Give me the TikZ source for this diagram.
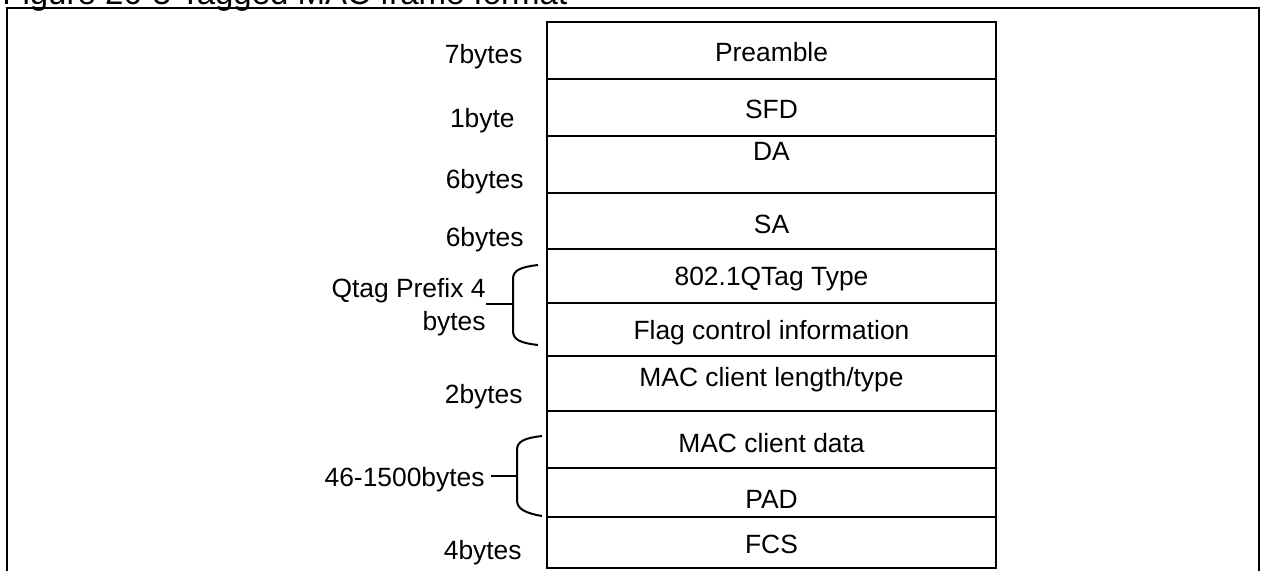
\documentclass[tikz,border=0pt]{standalone}
\usepackage{fontspec}
\setmainfont{Liberation Sans}
\usetikzlibrary{positioning}

\begin{document}
\begin{tikzpicture}[x=0.5pt,y=-0.5pt,
    font=\fontsize{13.2}{16.5}\selectfont,
    field/.style={draw,line width=1pt},
    fieldtext/.style={anchor=base,inner sep=0pt},
    sizetext/.style={anchor=base east,inner sep=0pt},
    brace/.style={line width=1pt}]
  \useasboundingbox (0,0) rectangle (1265,570);
  % caption, cut by the top edge
  \node[anchor=base west,inner sep=0pt,font=\fontsize{16.5}{20}\selectfont] (title) at (2,4) {Figure 26-3 Tagged MAC frame format};
  \draw[line width=1.4pt] (7,600) -- (7,8) -- (1259,8) -- (1259,600);
  % frame fields
  \foreach \top/\bot/\base/\name/\txt in {22/79/61/pre/Preamble, 79/136/118/sfd/SFD,
      136/193/160/da/DA, 193/249/233/sa/SA, 249/303/285/qtype/802.1QTag Type,
      303/356/339/flag/Flag control information, 356/411/386/len/{MAC client length/type},
      411/468/452/data/MAC client data, 468/517/508/pad/PAD, 517/568/553/fcs/FCS}{
    \draw[field] (547,\top) rectangle (996,\bot);
    \node[fieldtext] (\name) at (771.5,\base) {\txt};
  }
  % sizes
  \foreach \x/\base/\name/\txt in {523/63/s7/7bytes, 515/127/s1/1byte, 524/188/s6a/6bytes,
      524/246/s6b/6bytes, 523/403/s2/2bytes, 522/559/s4/4bytes}{
    \node[sizetext] (\name) at (\x,\base) {\txt};
  }
  \node[anchor=east,align=right,inner sep=0pt] (qlab) at (486,307) {Qtag Prefix 4\\bytes};
  \node[sizetext] (dlab) at (485,486) {46-1500bytes};
  % braces
  \coordinate (qmid) at (513,304);
  \coordinate (dmid) at (517,476);
  \draw[brace] (538,265) .. controls (521,267) and (513,270) .. (513,279) -- (513,331)
    .. controls (513,340) and (521,343) .. (538,345);
  \draw[brace] (qmid) -- (qmid -| qlab.east);
  \draw[brace] (542,436) .. controls (525,438) and (517,441) .. (517,450) -- (517,500)
    .. controls (517,509) and (525,513) .. (542,516);
  \draw[brace] (dmid) -- ([xshift=3pt]dmid -| dlab.east);
\end{tikzpicture}
\end{document}
